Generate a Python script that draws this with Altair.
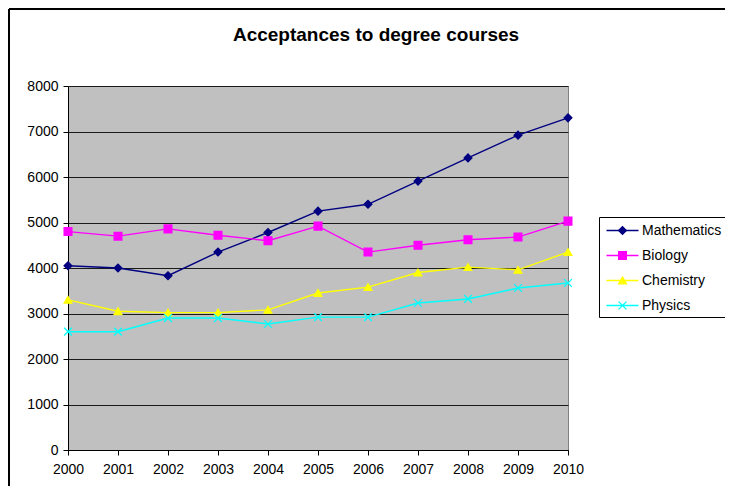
import altair as alt
import pandas as pd

years = [2000, 2001, 2002, 2003, 2004, 2005, 2006, 2007, 2008, 2009, 2010]
series_names = ["Mathematics", "Biology", "Chemistry", "Physics"]
mathematics = [4050, 4000, 3830, 4350, 4780, 5250, 5400, 5910, 6420, 6920, 7300]
biology = [4800, 4700, 4860, 4720, 4600, 4920, 4350, 4500, 4620, 4680, 5030]
chemistry = [3300, 3050, 3020, 3020, 3080, 3450, 3580, 3900, 4020, 3960, 4350]
physics = [2600, 2600, 2900, 2900, 2770, 2920, 2920, 3230, 3320, 3560, 3670]
y_ticks = [0, 1000, 2000, 3000, 4000, 5000, 6000, 7000, 8000]
title_text = "Acceptances to degree courses"

colors = ["#000080", "#FF00FF", "#FFFF00", "#00FFFF"]
shapes = ["diamond", "square", "triangle-up", "M-1,-1L1,1M-1,1L1,-1"]

rows = []
for name, vals in zip(series_names, [mathematics, biology, chemistry, physics]):
    for yr, v in zip(years, vals):
        rows.append({"Year": yr, "Series": name, "Value": v})
df = pd.DataFrame(rows)
one = pd.DataFrame({"k": [0]})

FONT = "Liberation Sans"

color_scale = alt.Scale(domain=series_names, range=colors)
shape_scale = alt.Scale(domain=series_names, range=shapes)
x_enc = alt.X("Year:Q", scale=alt.Scale(domain=[2000, 2010], nice=False),
              axis=alt.Axis(values=years, format="d", title=None, grid=False,
                            labelFontSize=14, labelPadding=7, tickSize=5,
                            labelFlush=False, labelOverlap=False,
                            domainColor="black", tickColor="black", labelColor="black"))
y_enc = alt.Y("Value:Q", scale=alt.Scale(domain=[0, 8000], nice=False),
              axis=alt.Axis(values=y_ticks, format="d", title=None, grid=True,
                            gridColor="#1a1a1a", gridWidth=1, labelFontSize=14,
                            labelPadding=5, tickSize=5, labelFlush=False,
                            domainColor="black", tickColor="black", labelColor="black"))

lines = alt.Chart(df).mark_line(strokeWidth=1.4).encode(
    x=x_enc, y=y_enc,
    color=alt.Color("Series:N", scale=color_scale, legend=None),
    detail="Series:N",
)

points = alt.Chart(df).mark_point(filled=True, size=60, opacity=1, strokeWidth=1.3).encode(
    x="Year:Q", y="Value:Q",
    color=alt.Color("Series:N", scale=color_scale, legend=None),
    stroke=alt.Stroke("Series:N", scale=color_scale, legend=None),
    shape=alt.Shape("Series:N", scale=shape_scale, legend=None),
)

# outer chart frame
border_left = alt.Chart(one).mark_rule(color="black", strokeWidth=2).encode(
    x=alt.value(-59), y=alt.value(-77), y2=alt.value(420))
border_top = alt.Chart(one).mark_rule(color="black", strokeWidth=2).encode(
    x=alt.value(-59), x2=alt.value(700), y=alt.value(-77))

title = alt.Chart(one).mark_text(
    text=title_text, font=FONT, fontSize=19, fontWeight="bold", color="black",
    align="center", baseline="middle").encode(x=alt.value(308), y=alt.value(-51))

# legend (guide) drawn by hand
legend_layers = [
    alt.Chart(one).mark_rect(fill="white", stroke="black", strokeWidth=1).encode(
        x=alt.value(531.5), x2=alt.value(660), y=alt.value(131.5), y2=alt.value(231.5))
]
for i, (name, col, shp) in enumerate(zip(series_names, colors, shapes)):
    ly = 144.5 + 25 * i
    legend_layers.append(alt.Chart(one).mark_rule(color=col, strokeWidth=1.4).encode(
        x=alt.value(538.5), x2=alt.value(570.5), y=alt.value(ly)))
    legend_layers.append(alt.Chart(one).mark_point(
        filled=True, size=60, opacity=1, shape=shp, color=col, stroke=col,
        strokeWidth=1.3).encode(x=alt.value(554.5), y=alt.value(ly)))
    legend_layers.append(alt.Chart(one).mark_text(
        text=name, font=FONT, fontSize=14, color="black", align="left",
        baseline="middle").encode(x=alt.value(574), y=alt.value(ly)))

chart = alt.layer(border_left, border_top, title, lines, points, *legend_layers).properties(
    width=500, height=364,
    padding={"left": 60, "top": 78, "right": 157, "bottom": 36},
    autosize=alt.AutoSizeParams(type="none"),
    background="white",
).configure_view(
    fill="#C0C0C0", stroke="#808080", strokeWidth=1
).configure_axis(
    labelFont=FONT
)

chart.save("out.html", embed_options={"renderer": "svg", "actions": False})
